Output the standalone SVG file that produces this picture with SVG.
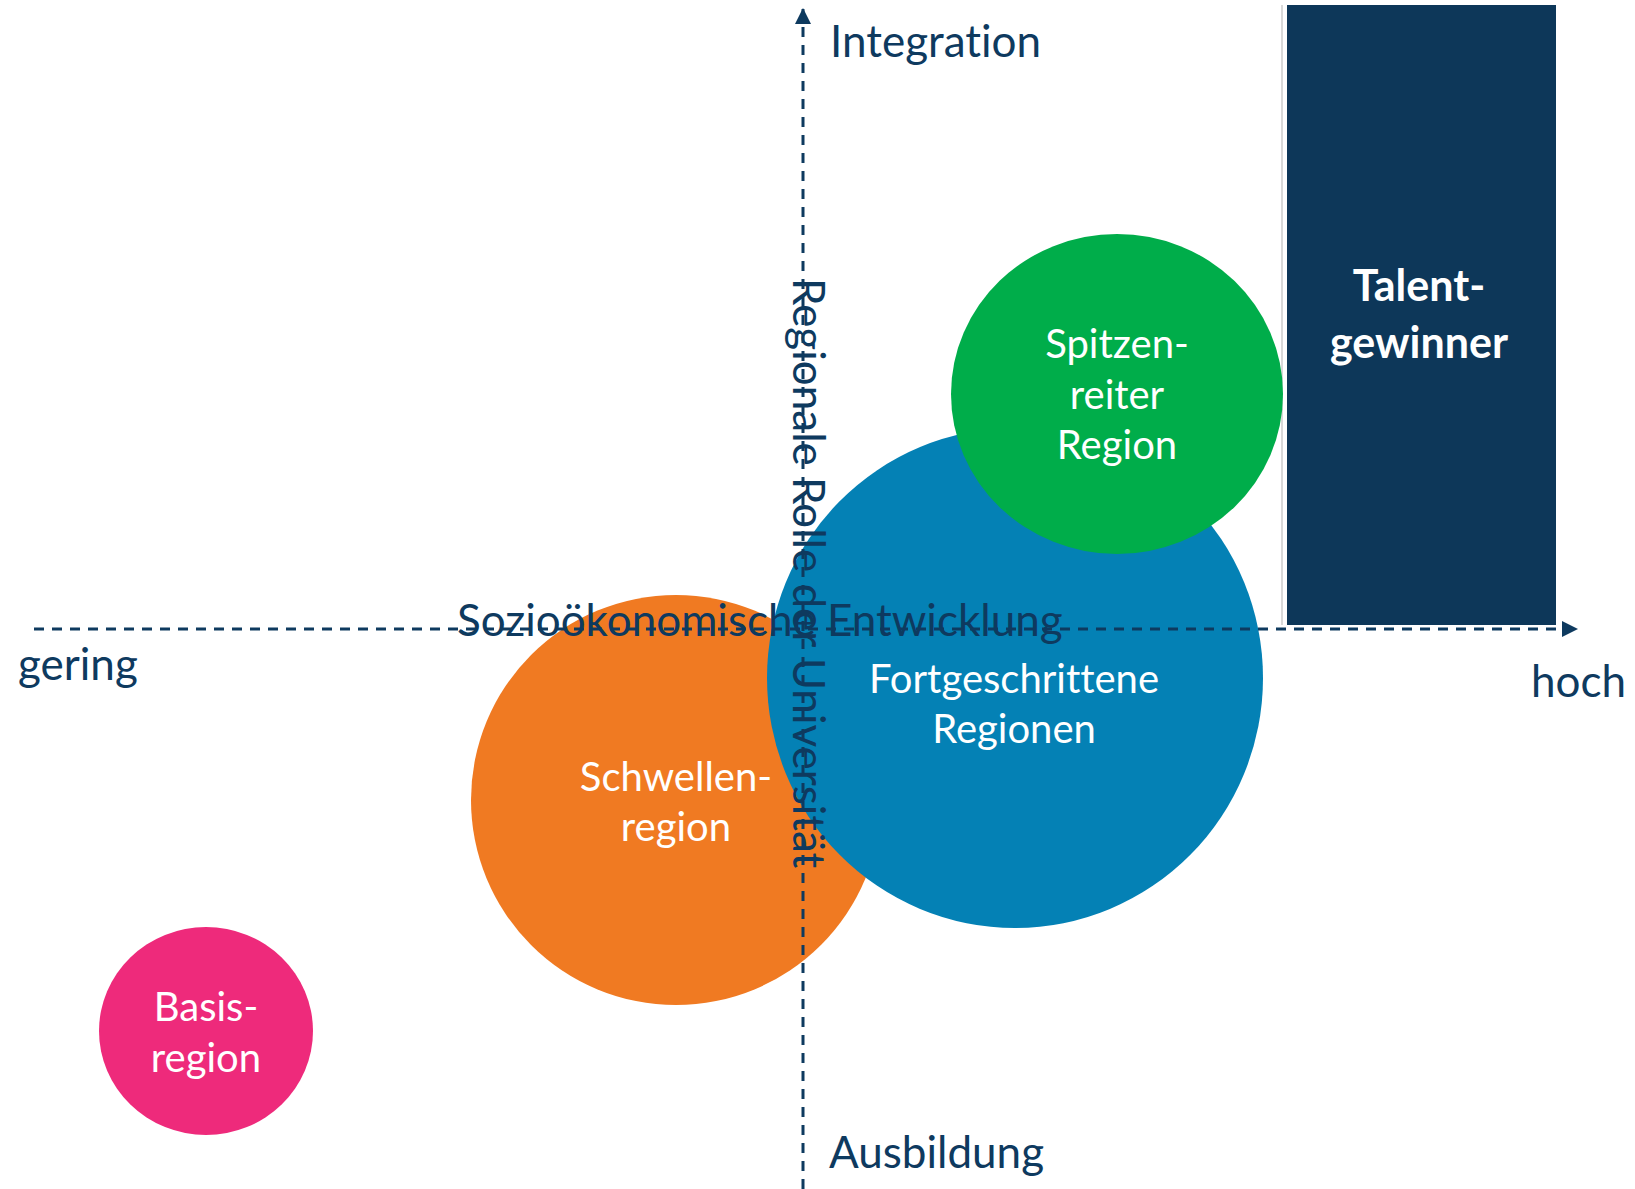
<svg xmlns="http://www.w3.org/2000/svg" width="1635" height="1189" viewBox="0 0 1635 1189">
<style>
text{font-variant-ligatures:none;font-feature-settings:"liga" 0}
.lbl{font-family:Lato,"Noto Sans",sans-serif;font-size:44px;fill:#0E3A5F}
.in{font-family:Lato,"Noto Sans",sans-serif;font-size:40px;fill:#FFFFFF;text-anchor:middle}
.bold{font-family:Lato,"Noto Sans",sans-serif;font-size:43px;font-weight:bold;fill:#FFFFFF;text-anchor:middle}
.axis{stroke:#0E3A5F;stroke-width:3;stroke-dasharray:10 8;fill:none}
</style>
<defs>
<marker id="ah" viewBox="0 0 10 10" refX="10" refY="5" markerWidth="16" markerHeight="16" markerUnits="userSpaceOnUse" orient="auto">
<path d="M0,0 L10,5 L0,10 Z" fill="#0E3A5F"/>
</marker>
</defs>
<rect width="1635" height="1189" fill="#FFFFFF"/>
<g id="talentgewinner">
<line x1="1282" y1="5" x2="1282" y2="625" stroke="#D9D9D9" stroke-width="2"/>
<rect x="1287" y="5" width="269" height="620" fill="#0D3759"/>
<text class="bold" x="1419" y="301">Talent-</text>
<text class="bold" x="1419" y="358">gewinner</text>
</g>
<g id="basisregion">
<ellipse cx="206" cy="1031" rx="107" ry="104" fill="#EE2A7B"/>
<text class="in" x="206" y="1021">Basis-</text>
<text class="in" x="206" y="1072">region</text>
</g>
<g id="schwellenregion">
<circle cx="676" cy="800" r="205" fill="#F07A22"/>
<text class="in" x="676" y="791">Schwellen-</text>
<text class="in" x="676" y="841">region</text>
</g>
<g id="fortgeschrittene">
<ellipse cx="1015" cy="678" rx="248" ry="250" fill="#0481B5"/>
<text class="in" x="1014" y="693">Fortgeschrittene</text>
<text class="in" x="1014" y="743">Regionen</text>
</g>
<g id="spitzenreiter">
<ellipse cx="1117" cy="394" rx="166" ry="160" fill="#00AD4A"/>
<text class="in" x="1117" y="358">Spitzen-</text>
<text class="in" x="1117" y="409">reiter</text>
<text class="in" x="1117" y="459">Region</text>
</g>
<g id="connectors">
<line class="axis" x1="803" y1="1189" x2="803" y2="8" marker-end="url(#ah)"/>
<line class="axis" x1="34" y1="629" x2="1578" y2="629" marker-end="url(#ah)"/>
</g>
<g id="axis-labels">
<text class="lbl" x="830" y="57">Integration</text>
<text class="lbl" x="829" y="1168">Ausbildung</text>
<text class="lbl" x="18" y="680">gering</text>
<text class="lbl" x="1531" y="697">hoch</text>
<text class="lbl" x="457" y="636">Sozioökonomische Entwicklung</text>
<text class="lbl" x="793" y="278" transform="rotate(90 793 278)">Regionale Rolle der Universität</text>
</g>
</svg>
